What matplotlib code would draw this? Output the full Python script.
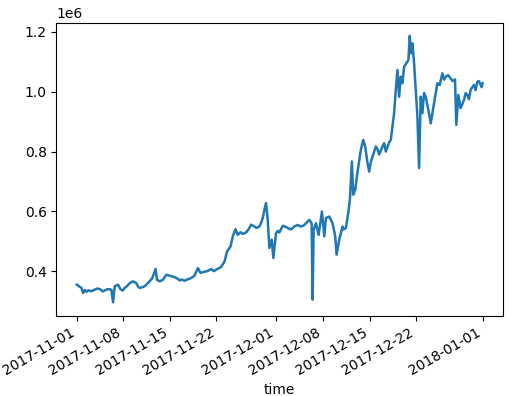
import pandas as pd
import matplotlib
matplotlib.use("Agg")
import matplotlib.pyplot as plt

# days after 2017-11-01
days = [0.0, 0.35, 0.7, 0.95, 1.2, 1.45, 1.7, 2.2, 2.7, 3.1, 3.45, 3.95, 4.3, 4.7, 5.2,
        5.45, 5.7, 6.2, 6.55, 6.9, 7.2, 7.6, 7.95, 8.45, 8.95, 9.2, 9.45, 9.95, 10.3,
        10.7, 10.95, 11.35, 11.85, 12.05, 12.45, 12.95, 13.45, 13.95, 14.7, 15.2, 15.45,
        15.7, 16.2, 16.7, 17.2, 17.7, 18.2, 18.6, 19.0, 19.45, 19.8, 20.2, 20.6, 20.95,
        21.3, 21.7, 22.2, 22.6, 23.1, 23.45, 23.85, 24.2, 24.6, 24.95, 25.45, 25.8,
        26.2, 26.7, 27.0, 27.45, 27.7, 27.95, 28.2, 28.45, 28.7, 28.95, 29.3, 29.55,
        29.95, 30.2, 30.45, 30.95, 31.3, 31.7, 32.2, 32.7, 33.2, 33.7, 34.1, 34.45,
        34.95, 35.3, 35.45, 35.6, 35.95, 36.35, 36.85, 37.2, 37.45, 37.95, 38.45, 38.85,
        39.05, 39.45, 39.95, 40.1, 40.45, 40.8, 41.05, 41.35, 41.55, 41.85, 42.2, 42.7,
        43.05, 43.35, 43.7, 43.95, 44.2, 44.45, 44.7, 44.95, 45.2, 45.45, 45.95, 46.2,
        46.45, 46.7, 46.95, 47.2, 47.45, 47.7, 47.95, 48.2, 48.45, 48.7, 48.95, 49.2,
        49.55, 49.85, 50.05, 50.25, 50.45, 50.7, 50.95, 51.2, 51.35, 51.45, 51.7, 51.95,
        52.2, 52.45, 52.85, 53.2, 53.45, 53.85, 54.2, 54.55, 54.95, 55.2, 55.45, 55.8,
        56.2, 56.5, 56.85, 57.05, 57.35, 57.7, 57.95, 58.2, 58.45, 58.7, 58.95, 59.2,
        59.45, 59.7, 59.95, 60.2, 60.45, 60.7, 60.85, 61.0]

price = [356000, 350000, 345000, 328000, 338000, 332000, 337000, 334000, 339000, 343000,
         341000, 333000, 338000, 341000, 339000, 297000, 350000, 356000, 341000, 336000,
         345000, 352000, 361000, 367000, 361000, 350000, 345000, 348000, 352000, 361000,
         367000, 378000, 408000, 372000, 367000, 372000, 389000, 386000, 381000, 375000,
         370000, 373000, 369000, 374000, 378000, 386000, 411000, 395000, 398000, 400000,
         403000, 408000, 401000, 406000, 410000, 415000, 433000, 467000, 483000, 517000,
         541000, 522000, 531000, 525000, 530000, 540000, 556000, 550000, 545000, 550000,
         562000, 578000, 606000, 628000, 572000, 478000, 506000, 445000, 528000, 535000,
         530000, 552000, 550000, 545000, 540000, 550000, 555000, 550000, 553000, 561000,
         572000, 561000, 306000, 539000, 561000, 522000, 600000, 517000, 578000, 583000,
         561000, 517000, 456000, 506000, 550000, 540000, 545000, 595000, 639000, 767000,
         656000, 672000, 733000, 806000, 839000, 817000, 761000, 733000, 765000, 783000,
         800000, 817000, 808000, 790000, 817000, 828000, 800000, 815000, 830000, 839000,
         883000, 928000, 1006000, 1072000, 983000, 1050000, 1028000, 1083000, 1095000,
         1106000, 1186000, 1128000, 1161000, 1095000, 1006000, 917000, 817000, 745000,
         983000, 928000, 995000, 983000, 939000, 894000, 928000, 983000, 1028000, 1022000,
         1061000, 1040000, 1050000, 1055000, 1044000, 1035000, 1041000, 889000, 989000,
         945000, 958000, 972000, 995000, 989000, 975000, 1006000, 1015000, 1022000,
         1005000, 1033000, 1035000, 1022000, 1015000, 1028000]

time = pd.Timestamp("2017-11-01") + pd.to_timedelta(days, unit="D")
s = pd.Series(price, index=pd.DatetimeIndex(time, name="time"))

fig, ax = plt.subplots(figsize=(5.09, 3.96), dpi=100)
ax.plot(s.index, s.values, color="#1f77b4", linewidth=1.8)
ax.set_xlabel("time")
fig.autofmt_xdate()
fig.subplots_adjust(left=0.111, right=0.988, top=0.943, bottom=0.203)
fig.savefig("out.png")
